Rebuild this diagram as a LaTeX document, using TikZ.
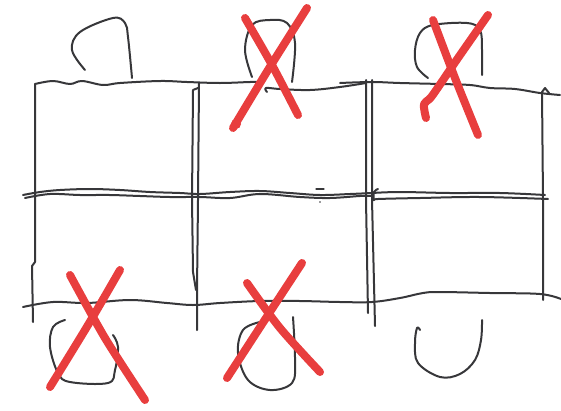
\documentclass[tikz,border=0pt]{standalone}
\usetikzlibrary{calc}
\definecolor{ink}{RGB}{55,55,58}
\definecolor{crayon}{RGB}{232,62,62}
\tikzset{
  pen/.style={draw=ink, line width=2pt, line cap=round, line join=round},
  redx/.style={draw=crayon, line width=8pt, line cap=round, line join=round},
}
\begin{document}
\begin{tikzpicture}[x=1pt,y=-1pt]
\useasboundingbox (0,0) rectangle (561,410);
% ---- table edges ----
% top line
\draw[pen] plot[smooth,tension=0.6] coordinates {(35,84) (53,81) (70,84) (82,81) (103,85) (120,83) (160,81) (187,82) (220,83) (250,82) (262,82)};
\draw[pen] plot[smooth,tension=0.6] coordinates {(267,92) (266,88) (280,89) (310,90) (340,87) (366,83)};
\draw[pen] plot[smooth,tension=0.6] coordinates {(340,83) (372,82) (400,83) (440,84) (470,85) (490,88) (515,89) (540,93) (560,95)};
% middle line (two strokes)
\draw[pen] plot[smooth,tension=0.6] coordinates {(23,195) (40,192) (60,190) (90,189) (120,190) (150,192) (180,193) (200,194) (230,192) (260,191) (290,193) (320,195) (350,194) (372,193)};
\draw[pen] plot[smooth,tension=0.6] coordinates {(25,198) (50,194) (80,195) (110,195) (140,196) (170,197) (200,197) (230,198) (260,194) (300,197) (330,198) (360,196) (372,196)};
\draw[pen] plot[smooth,tension=0.6] coordinates {(378,189) (374,192) (374,200) (378,199) (420,198) (480,197) (548,199)};
\draw[pen] plot[smooth,tension=0.6] coordinates {(372,193) (400,192) (450,193) (500,193) (545,195)};
% bottom line
\draw[pen] plot[smooth,tension=0.6] coordinates {(23,307) (53,302) (87,303) (130,300) (167,303) (193,305) (220,303) (260,301) (300,301) (340,302) (372,302) (400,298) (423,293) (440,292) (490,293) (540,294) (561,299)};
% verticals
\draw[pen] (35,84) -- (35,262) -- (32,266) -- (33,322);
\draw[pen] (199,83) -- (198,200) -- (197,290) -- (197,330);
\draw[pen] (198,88) -- (193,90) -- (192,200) -- (193,272) -- (196,290);
\draw[pen] (366,80) -- (366,200) -- (368,313);
\draw[pen] (372,80) -- (372,200) -- (375,326);
\draw[pen] (549,93) -- (545,88) -- (542,92) -- (543,200) -- (543,300);
% stray marks
\draw[pen, line width=1.2pt] (316,189) -- (324,189);
\fill[ink] (320,202) circle (0.8);
% ---- chairs ----
\draw[pen] plot[smooth,tension=0.6] coordinates {(85,70) (72,50) (80,32) (113,18) (125,23) (128,37) (132,78)};
\draw[pen] plot[smooth,tension=0.6] coordinates {(252,77) (245,50) (252,25) (270,20) (287,23) (295,43) (292,82)};
\draw[pen] plot[smooth,tension=0.6] coordinates {(428,78) (417,67) (415,50) (420,33) (433,25) (467,23) (480,30) (482,50) (482,75)};
\draw[pen] plot[smooth,tension=0.6] coordinates {(65,320) (53,327) (50,347) (58,373) (70,382) (108,383) (115,370) (118,347) (113,335)};
\draw[pen] plot[smooth,tension=0.6] coordinates {(260,322) (243,330) (238,353) (248,380) (270,390) (292,383) (295,360) (293,317)};
\draw[pen] plot[smooth,tension=0.6] coordinates {(420,330) (417,328) (415,343) (418,363) (440,377) (460,374) (475,360) (481,340) (482,320)};
% ---- red crosses ----
% X1
\draw[redx] plot[smooth] coordinates {(245,18) (272,65) (298,115)};
\draw[redx] plot[smooth] coordinates {(307,8) (268,70) (233,128)};
\fill[crayon] (236,124) circle (5);
% X2
\draw[redx] plot[smooth] coordinates {(433,20) (455,78) (478,135)};
\draw[redx] plot[smooth] coordinates {(488,15) (458,58) (432,96) (424,104) (426,118)};
% X3
\draw[redx] plot[smooth] coordinates {(70,275) (105,338) (145,400)};
\draw[redx] plot[smooth] coordinates {(120,270) (88,325) (50,387)};
% X4
\draw[redx] plot[smooth] coordinates {(247,283) (280,328) (320,372)};
\draw[redx] plot[smooth] coordinates {(302,263) (266,318) (227,378)};
\end{tikzpicture}
\end{document}
